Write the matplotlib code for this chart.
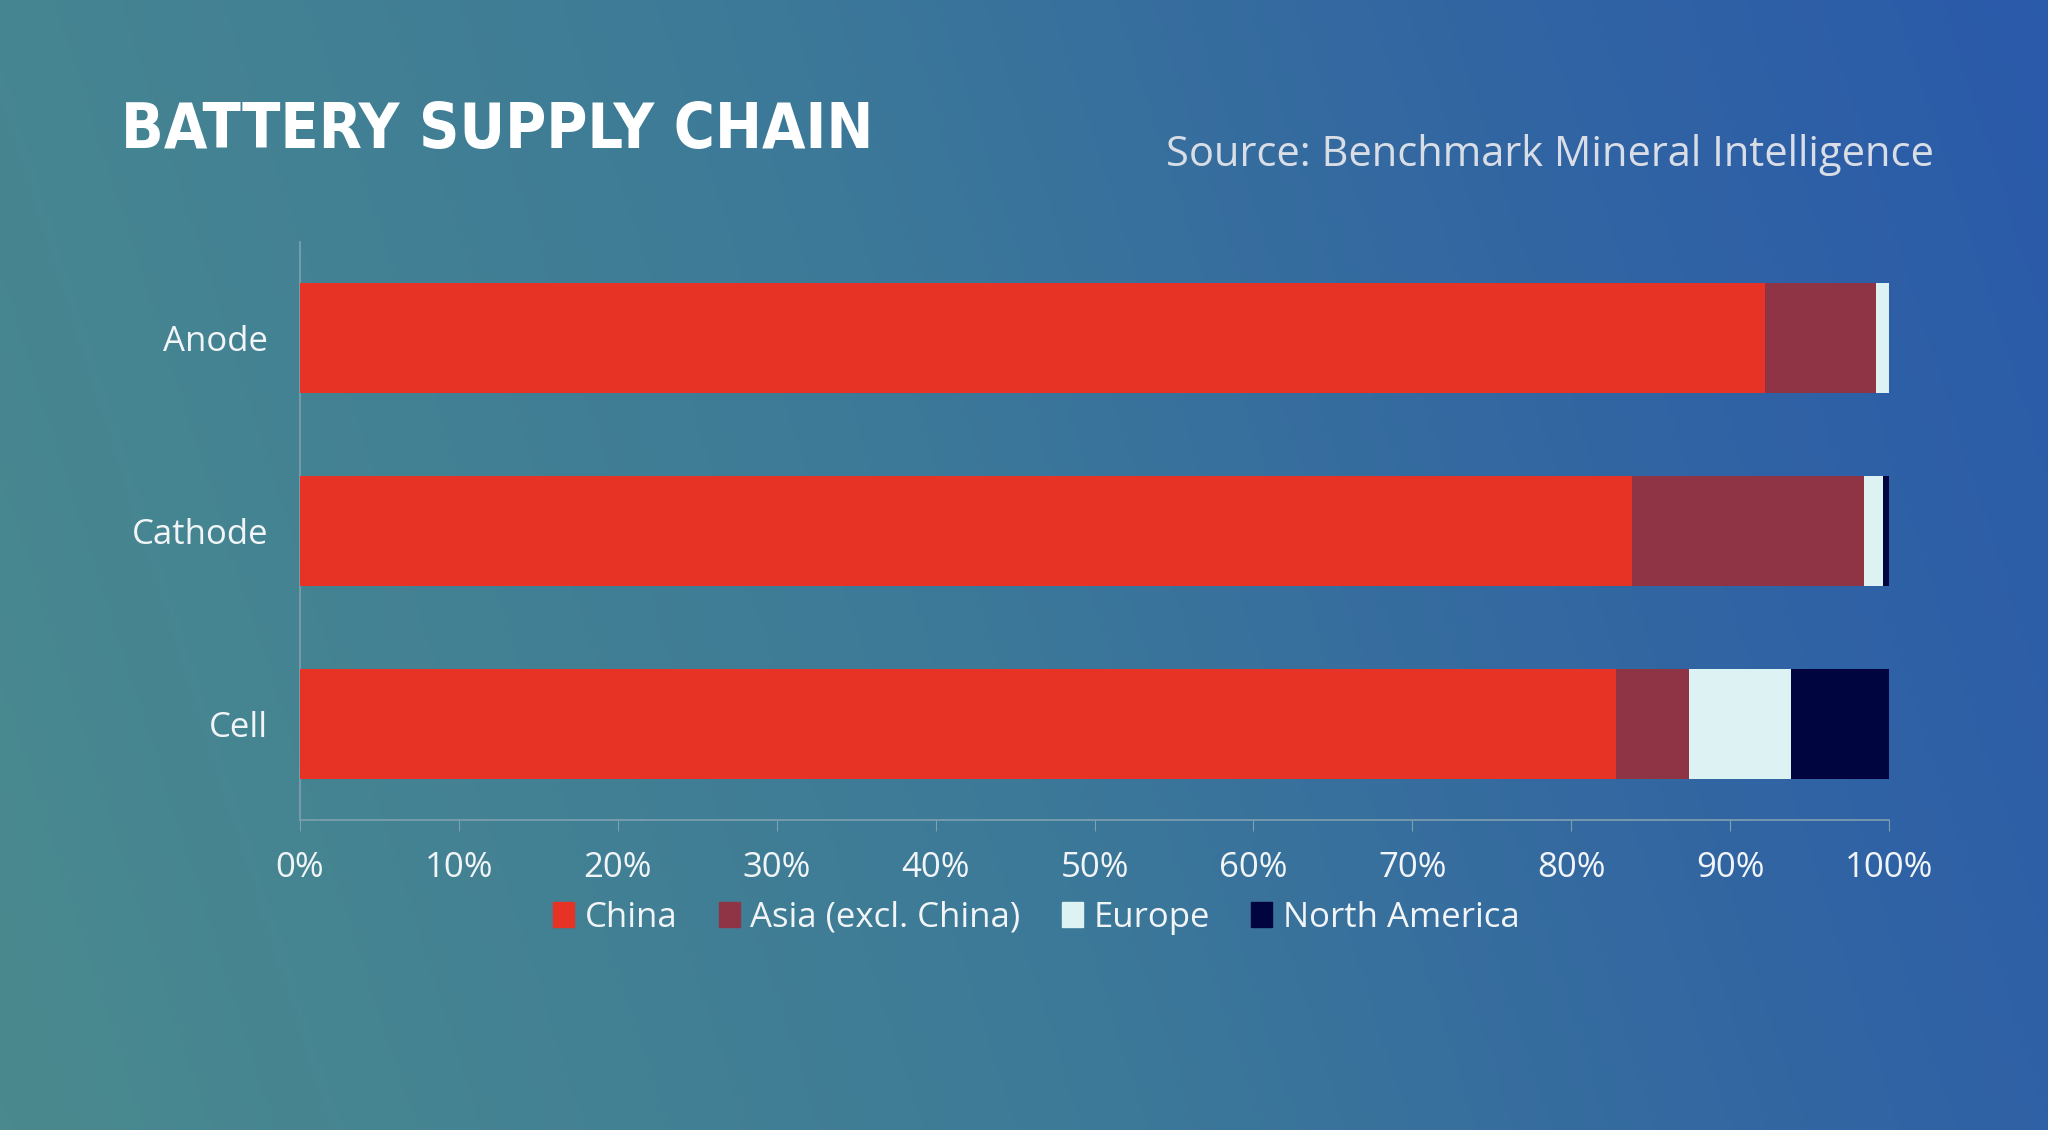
import numpy as np
import matplotlib.pyplot as plt
from matplotlib.colors import LinearSegmentedColormap
from matplotlib.patches import Patch

categories = ['Cell', 'Cathode', 'Anode']
series = ['China', 'Asia (excl. China)', 'Europe', 'North America']
china = [82.8, 83.8, 92.2]
asia = [4.6, 14.6, 7.0]
europe = [6.4, 1.2, 0.8]
north_america = [6.2, 0.4, 0.0]
xticks = [0, 10, 20, 30, 40, 50, 60, 70, 80, 90, 100]

colors = ['#e63325', '#8f3445', '#ddf3f3', '#01053f']
text_col = '#f2f5f7'

fig = plt.figure(figsize=(20.48, 11.3), dpi=100)

# diagonal teal -> blue background
bg = fig.add_axes([0, 0, 1, 1], zorder=-10)
gx, gy = np.meshgrid(np.linspace(0, 1, 400), np.linspace(0, 1, 220))
grad = 0.85 * gx + 0.15 * gy
cmap = LinearSegmentedColormap.from_list(
    'bg', [(0, '#4a8a8e'), (0.45, '#3d7a98'), (0.75, '#3266a2'), (1, '#2a5aaa')])
bg.imshow(grad, cmap=cmap, aspect='auto', origin='lower', extent=[0, 1, 0, 1])
bg.axis('off')

ax = fig.add_axes([0.1465, 0.2743, 0.7759, 0.5115])
ax.patch.set_alpha(0)

data = [china, asia, europe, north_america]
y = np.arange(len(categories))
left = np.zeros(len(categories))
for vals, name, c in zip(data, series, colors):
    ax.barh(y, vals, left=left, height=0.57, color=c, label=name, zorder=3)
    left += np.array(vals)

ax.set_xlim(0, 100)
ax.set_ylim(-0.5, 2.5)
ax.set_yticks(y)
ax.set_yticklabels(categories, fontsize=25, color=text_col, family='Open Sans')
ax.set_xticks(xticks)
ax.set_xticklabels([f'{t}%' for t in xticks], fontsize=25, color=text_col, family='Open Sans')
ax.tick_params(axis='y', length=0, pad=23)
ax.tick_params(axis='x', length=8, color='#7fa0b0', pad=14, direction='out')

for s in ['top', 'right']:
    ax.spines[s].set_visible(False)
for s in ['left', 'bottom']:
    ax.spines[s].set_color('#7fa0b0')
    ax.spines[s].set_linewidth(1.2)

handles = [Patch(color=c, label=n) for c, n in zip(colors, series)]
leg = fig.legend(handles=handles, loc='center', bbox_to_anchor=(0.506, 0.188), ncol=4,
                 frameon=False, handlelength=0.6, handleheight=0.75, handletextpad=0.3,
                 columnspacing=1.2, prop={'family': 'Open Sans', 'size': 25})
for t in leg.get_texts():
    t.set_color(text_col)

fig.text(0.059, 0.884, 'BATTERY SUPPLY CHAIN', fontsize=45, fontweight='bold',
         fontstretch='condensed', family='DejaVu Sans', color='white', va='center', ha='left')
fig.text(0.9445, 0.863, 'Source: Benchmark Mineral Intelligence', fontsize=30,
         family='Open Sans', color='#d9dee6', va='center', ha='right')

fig.savefig('out.png', dpi=100)
